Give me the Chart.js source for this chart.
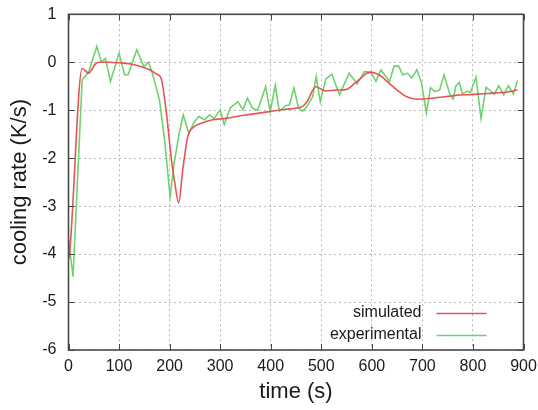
<!DOCTYPE html>
<html>
<head>
<meta charset="utf-8">
<script src="https://cdn.jsdelivr.net/npm/chart.js@4/dist/chart.umd.min.js"></script>
<style>
  html, body { margin: 0; padding: 0; background: #fff; }
</style>
</head>
<body>
<canvas id="coolingchart" width="538" height="410"></canvas>
<script>
// Simulated cooling rate (red)
const simTime = [0, 2, 27, 40, 52, 60, 80, 100, 120, 140, 161, 175, 183, 193, 203, 210, 218, 226, 236, 249, 260, 285, 311, 350, 397, 430, 463, 472, 489, 500, 509, 530, 549, 565, 576, 590, 601, 612, 622, 630, 642, 656, 669, 689, 708, 735, 766, 800, 830, 860, 888];
const simRate = [-4.1, -4.0, -0.13, -0.23, -0.05, 0.0, 0.0, -0.01, -0.03, -0.08, -0.16, -0.25, -0.33, -1.0, -1.97, -2.5, -2.93, -2.24, -1.55, -1.34, -1.28, -1.2, -1.17, -1.1, -1.03, -0.98, -0.92, -0.82, -0.51, -0.56, -0.6, -0.58, -0.57, -0.45, -0.35, -0.23, -0.21, -0.25, -0.32, -0.4, -0.51, -0.63, -0.72, -0.77, -0.76, -0.73, -0.69, -0.67, -0.65, -0.63, -0.58];

// Experimental cooling rate (green)
const expTime = [0, 9, 27, 40, 56, 65, 73, 83, 100, 111, 118, 135, 149, 158, 166, 180, 190, 201, 209, 219, 227, 238, 249, 258, 269, 279, 288, 300, 308, 320, 335, 345, 354, 364, 374, 390, 399, 409, 417, 430, 437, 446, 455, 463, 470, 483, 490, 498, 509, 521, 536, 555, 571, 585, 598, 608, 618, 628, 635, 644, 653, 661, 671, 679, 689, 698, 708, 716, 725, 734, 743, 754, 761, 766, 773, 779, 789, 795, 806, 816, 826, 836, 842, 851, 861, 870, 880, 888];
const expRate = [-3.7, -4.47, -0.37, -0.2, 0.33, 0.01, 0.08, -0.4, 0.19, -0.26, -0.26, 0.26, -0.09, 0.0, -0.23, -0.79, -1.62, -2.8, -2.1, -1.48, -1.1, -1.48, -1.24, -1.13, -1.2, -1.1, -1.17, -0.99, -1.3, -0.95, -0.82, -0.99, -0.75, -0.96, -1.0, -0.51, -1.03, -0.48, -1.02, -0.9, -0.89, -0.54, -0.95, -1.02, -0.95, -0.72, -0.3, -0.82, -0.35, -0.25, -0.68, -0.23, -0.45, -0.2, -0.2, -0.4, -0.16, -0.3, -0.4, -0.08, -0.08, -0.26, -0.23, -0.33, -0.16, -0.42, -1.06, -0.53, -0.61, -0.58, -0.26, -0.66, -0.77, -0.5, -0.42, -0.66, -0.6, -0.63, -0.31, -1.17, -0.52, -0.61, -0.67, -0.49, -0.68, -0.49, -0.66, -0.38];

const seriesNames = ['simulated', 'experimental'];
const seriesColors = ['#e65454', '#6fd26f'];

const fontFamily = '"Liberation Sans", Arial, sans-serif';

// Box border, inward ticks on all four sides and the legend inside the plot
const gnuplotFrame = {
    id: 'gnuplotFrame',
    afterDraw(chart) {
        const ctx = chart.ctx;
        const area = chart.chartArea;
        const xs = chart.scales.x;
        const ys = chart.scales.y;
        const tick = 6;
        ctx.save();
        ctx.strokeStyle = '#444';
        ctx.lineWidth = 1;
        ctx.beginPath();
        xs.ticks.forEach(t => {
            const px = Math.round(xs.getPixelForValue(t.value)) + 0.5;
            ctx.moveTo(px, area.bottom); ctx.lineTo(px, area.bottom - tick);
            ctx.moveTo(px, area.top); ctx.lineTo(px, area.top + tick);
        });
        ys.ticks.forEach(t => {
            const py = Math.round(ys.getPixelForValue(t.value)) + 0.5;
            ctx.moveTo(area.left, py); ctx.lineTo(area.left + tick, py);
            ctx.moveTo(area.right, py); ctx.lineTo(area.right - tick, py);
        });
        ctx.stroke();

        ctx.lineWidth = 1.6;
        ctx.strokeStyle = '#4a4a4a';
        ctx.strokeRect(area.left, area.top, area.right - area.left, area.bottom - area.top);

        // legend
        ctx.font = '16px ' + fontFamily;
        ctx.textAlign = 'right';
        ctx.textBaseline = 'middle';
        chart.data.datasets.forEach((ds, i) => {
            const y = area.bottom - 37 + i * 22;
            ctx.fillStyle = '#1a1a1a';
            ctx.fillText(ds.label, area.right - 102, y);
            ctx.strokeStyle = ds.borderColor;
            ctx.lineWidth = 1.6;
            ctx.beginPath();
            ctx.moveTo(area.right - 87, y + 0.5);
            ctx.lineTo(area.right - 37, y + 0.5);
            ctx.stroke();
        });
        ctx.restore();
    }
};

const coolingData = {
    datasets: [{
        label: seriesNames[0],
        data: simTime.map((t, i) => ({ x: t, y: simRate[i] })),
        borderColor: seriesColors[0],
        borderWidth: 1.6,
        pointRadius: 0,
        cubicInterpolationMode: 'monotone',
        order: 1
    }, {
        label: seriesNames[1],
        data: expTime.map((t, i) => ({ x: t, y: expRate[i] })),
        borderColor: seriesColors[1],
        borderWidth: 1.6,
        pointRadius: 0,
        tension: 0,
        order: 2
    }]
};

const coolingConfig = {
    type: 'line',
    data: coolingData,
    options: {
        responsive: false,
        animation: false,
        devicePixelRatio: 1,
        layout: { padding: { top: 14.3, right: 14.5, left: 0, bottom: 0 } },
        plugins: {
            legend: { display: false },
            tooltip: { enabled: false }
        },
        scales: {
            x: {
                type: 'linear',
                min: 0,
                max: 900,
                ticks: { stepSize: 100, padding: 7, color: '#1a1a1a', font: { family: fontFamily, size: 16 }, maxRotation: 0 },
                grid: { color: '#b8b8b8', lineWidth: 1, drawTicks: false },
                border: { display: false, dash: [2, 3] },
                title: { display: true, text: 'time (s)', color: '#1a1a1a', font: { family: fontFamily, size: 22 }, padding: { top: 0, bottom: 5 } },
                afterFit(scale) {
                    scale.height = 60;
                    scale.paddingLeft = 0;
                    scale.paddingRight = 0;
                }
            },
            y: {
                min: -6,
                max: 1,
                ticks: { stepSize: 1, padding: 12, color: '#1a1a1a', font: { family: fontFamily, size: 16 } },
                grid: { color: '#b8b8b8', lineWidth: 1, drawTicks: false },
                border: { display: false, dash: [2, 3] },
                title: { display: true, text: 'cooling rate (K/s)', color: '#1a1a1a', font: { family: fontFamily, size: 22 }, padding: { top: 7, bottom: 0 } },
                afterFit(scale) {
                    scale.width = 68.5;
                    scale.paddingTop = 0;
                    scale.paddingBottom = 0;
                }
            }
        }
    },
    plugins: [gnuplotFrame]
};

const coolingChart = new Chart(document.getElementById('coolingchart'), coolingConfig);
</script>
</body>
</html>
